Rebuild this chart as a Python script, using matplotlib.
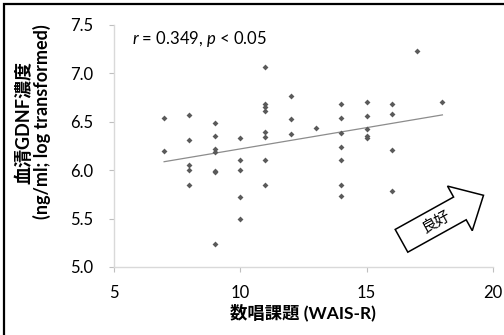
import numpy as np
import matplotlib
matplotlib.use("Agg")
import matplotlib.pyplot as plt
from matplotlib import patches, transforms

plt.rcParams['font.family'] = ['Lato', 'Noto Sans CJK JP', 'DejaVu Sans']
plt.rcParams['mathtext.fontset'] = 'custom'
plt.rcParams['mathtext.rm'] = 'Lato'
plt.rcParams['mathtext.it'] = 'Lato:italic'

# ---- data ----
digit_span = [7, 7,
              8, 8, 8, 8, 8,
              9, 9, 9, 9, 9, 9, 9,
              10, 10, 10, 10, 10,
              11, 11, 11, 11, 11, 11, 11, 11,
              12, 12, 12,
              13,
              14, 14, 14, 14, 14, 14, 14,
              15, 15, 15, 15, 15,
              16, 16, 16, 16,
              17,
              18]
gdnf = [6.54, 6.20,
        6.57, 6.31, 6.05, 6.00, 5.85,
        6.49, 6.35, 6.22, 6.19, 5.99, 5.98, 5.24,
        6.33, 6.11, 6.00, 5.72, 5.50,
        7.07, 6.68, 6.65, 6.61, 6.39, 6.34, 6.11, 5.85,
        6.77, 6.53, 6.37,
        6.44,
        6.68, 6.54, 6.38, 6.24, 6.11, 5.85, 5.73,
        6.70, 6.56, 6.43, 6.35, 6.33,
        6.68, 6.58, 6.21, 5.79,
        7.23,
        6.70]
x_ticks = [5, 10, 15, 20]
y_ticks = [5.0, 5.5, 6.0, 6.5, 7.0, 7.5]
x_label = "数唱課題 (WAIS-R)"
y_label = "血清GDNF濃度\n(ng/ml; log transformed)"
stat_text = "$r$ = 0.349, $p$ < 0.05"
arrow_text = "良好"

W, H = 504, 335
fig = plt.figure(figsize=(W / 100, H / 100), dpi=100)
ax = fig.add_axes([113.5 / W, (H - 267) / H, (493 - 113.5) / W, (267 - 25) / H])

x = np.array(digit_span, dtype=float)
y = np.array(gdnf, dtype=float)
ax.plot(x, y, linestyle='none', marker='D', ms=3.0, mew=0, color='#5a5a5a', zorder=3)

slope, intercept = np.polyfit(x, y, 1)
xl = np.array([x.min(), x.max()])
ax.plot(xl, slope * xl + intercept, color='#8c8c8c', lw=0.9, zorder=2)

ax.set_xlim(5, 20)
ax.set_ylim(5.0, 7.5)
ax.set_xticks(x_ticks)
ax.set_xticklabels([str(t) for t in x_ticks])
ax.set_yticks(y_ticks)
ax.set_yticklabels([f"{t:.1f}" for t in y_ticks])

for s in ['top', 'right']:
    ax.spines[s].set_visible(False)
for s in ['left', 'bottom']:
    ax.spines[s].set_color('#d9d9d9')
    ax.spines[s].set_linewidth(1.0)
ax.tick_params(axis='both', direction='out', length=3.8, width=0.8, color='#bfbfbf',
               labelsize=12, labelcolor='black')
ax.tick_params(axis='y', pad=11)
ax.tick_params(axis='x', pad=9)

ax.set_xlabel(x_label, fontsize=12.5, fontweight='bold', labelpad=2)

fig.text(33 / W, (H - 122) / H, y_label, rotation=90, ha='center', va='center',
         multialignment='center', fontsize=13, fontweight='bold', linespacing=1.05)

ax.text(0.048, 0.942, stat_text, transform=ax.transAxes, fontsize=12, ha='left', va='center')

# pixel-space transform (origin bottom-left)
px = transforms.Affine2D().scale(1 / W, 1 / H) + fig.transFigure

arrow = patches.FancyArrow(401.5, H - 240.8, 82, 45.5, width=26, head_width=51,
                           head_length=27, length_includes_head=True,
                           facecolor='white', edgecolor='black', linewidth=1.1,
                           transform=px, zorder=5)
fig.add_artist(arrow)
fig.text(436, H - 222, arrow_text, transform=px, rotation=29, ha='center', va='center',
         fontsize=11, family=['Noto Sans CJK JP'], zorder=6, rotation_mode='anchor')

border = patches.Rectangle((3.5, -20), 700, (H - 3.5) + 20, transform=px,
                           fill=False, edgecolor='black', linewidth=1.6, zorder=10)
fig.add_artist(border)

fig.savefig('out.png', dpi=100)
